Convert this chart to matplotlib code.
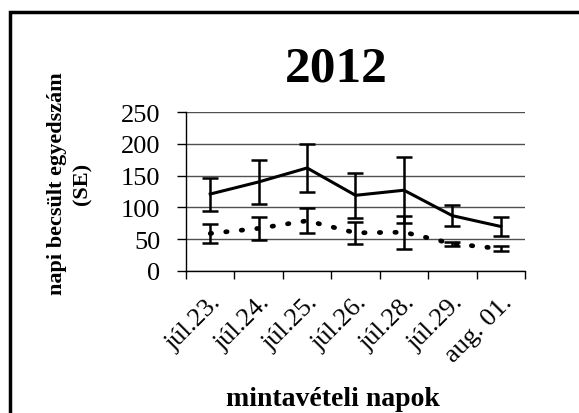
import matplotlib.pyplot as plt
from matplotlib.patches import Rectangle
from matplotlib.transforms import ScaledTranslation

plt.rcParams['font.family'] = ['Liberation Serif', 'DejaVu Serif']

napok = ["júl.23.", "júl.24.", "júl.25.", "júl.26.", "júl.28.", "júl.29.", "aug. 01."]
folyamatos = [121, 140, 162, 119, 127, 87, 70]
folyamatos_se = [26, 35, 37, 35, 52, 16, 15]
pontozott = [59, 67, 79, 60, 61, 43, 35]
pontozott_se = [15, 18, 20, 17, 26, 3, 4]

fig = plt.figure(figsize=(5.79, 4.14), dpi=100)
ax = fig.add_axes([186 / 579, 1 - 272 / 414, 339 / 579, 159 / 414])

x = [i + 0.5 for i in range(len(napok))]

ax.errorbar(x, folyamatos, yerr=folyamatos_se, color='black', linewidth=2.2,
            elinewidth=1.8, capsize=5.5, capthick=1.8, zorder=3)
ax.errorbar(x, pontozott, yerr=pontozott_se, color='black', linewidth=3.4,
            linestyle=(0, (0.3, 3.0)), dash_capstyle='round',
            elinewidth=1.8, capsize=5.5, capthick=1.8, zorder=3)

ax.set_xlim(0, len(napok))
ax.set_ylim(0, 250)
ax.set_yticks([0, 50, 100, 150, 200, 250])
ax.set_xticks(range(len(napok) + 1))
ax.set_xticklabels([])
ax.set_xticks(x, minor=True)
ax.set_xticklabels(napok, minor=True, rotation=45, ha='right', va='top',
                   rotation_mode='anchor', fontsize=19)
eltolas = ScaledTranslation(3 / 100, 0, fig.dpi_scale_trans)
for t in ax.xaxis.get_minorticklabels():
    t.set_transform(t.get_transform() + eltolas)
ax.tick_params(axis='x', which='minor', length=0, pad=14)
ax.tick_params(axis='x', which='major', length=6, width=1, direction='out')
ax.tick_params(axis='y', length=6.5, width=1, labelsize=19, pad=12)

ax.yaxis.grid(True, color='#505050', linewidth=1)
ax.set_axisbelow(True)
for s in ['top', 'right']:
    ax.spines[s].set_visible(False)
ax.spines['left'].set_linewidth(1)
ax.spines['bottom'].set_linewidth(1)

fig.text(336 / 579, 1 - 82 / 414, "2012", fontsize=37, fontweight='bold',
         ha='center', va='baseline')
fig.text(70 / 579, 1 - 184 / 414, "napi becsült egyedszám\n(SE)", fontsize=16,
         fontweight='bold', rotation=90, ha='center', va='center',
         multialignment='center', linespacing=1.35)
fig.text(333 / 579, 1 - 400 / 414, "mintavételi napok", fontsize=20,
         fontweight='bold', ha='center', va='center')

fig.patches.append(Rectangle((10 / 579, -0.1), 1.2, 1 - 13 / 414 + 0.1,
                             transform=fig.transFigure, fill=False,
                             edgecolor='black', linewidth=2.5))

fig.savefig("out.png", dpi=100)
